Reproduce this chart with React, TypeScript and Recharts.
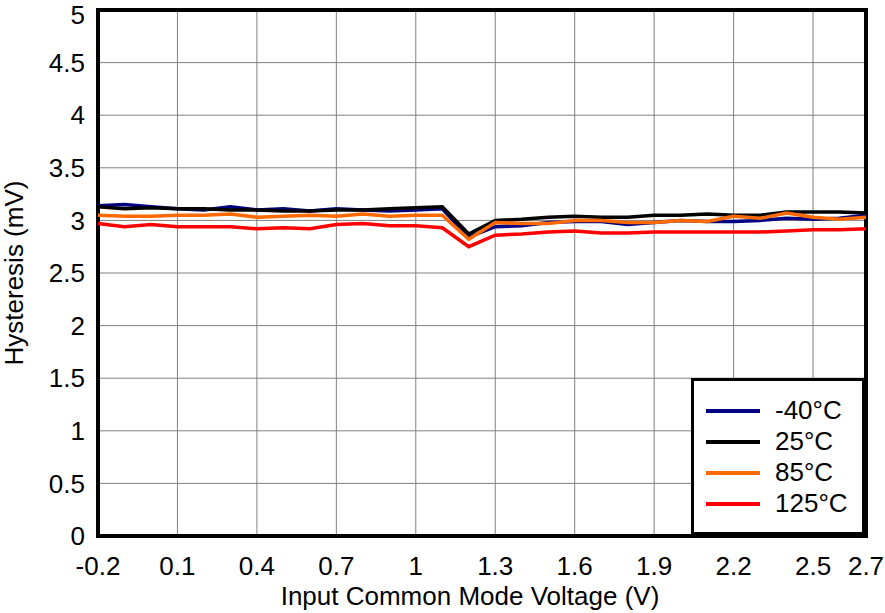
import { CartesianGrid, Label, Legend, Line, LineChart, ReferenceArea, XAxis, YAxis } from 'recharts'

const voltage = [
  -0.2, -0.1, 0, 0.1, 0.2, 0.3, 0.4, 0.5, 0.6, 0.7, 0.8, 0.9, 1.0, 1.1, 1.2,
  1.3, 1.4, 1.5, 1.6, 1.7, 1.8, 1.9, 2.0, 2.1, 2.2, 2.3, 2.4, 2.5, 2.6, 2.7,
];
const hystM40 = [
  3.14, 3.15, 3.13, 3.11, 3.10, 3.13, 3.10, 3.11, 3.09, 3.11, 3.10, 3.09, 3.10, 3.11, 2.84,
  2.94, 2.95, 2.98, 2.99, 2.99, 2.96, 2.98, 3.00, 2.99, 2.99, 3.00, 3.02, 3.01, 3.02, 3.05,
];
const hyst25 = [
  3.13, 3.11, 3.12, 3.11, 3.11, 3.10, 3.10, 3.09, 3.09, 3.10, 3.10, 3.11, 3.12, 3.13, 2.87,
  3.00, 3.01, 3.03, 3.04, 3.03, 3.03, 3.05, 3.05, 3.06, 3.05, 3.05, 3.08, 3.08, 3.08, 3.07,
];
const hyst85 = [
  3.05, 3.04, 3.04, 3.05, 3.05, 3.06, 3.03, 3.04, 3.05, 3.04, 3.06, 3.04, 3.05, 3.05, 2.82,
  2.98, 2.97, 2.97, 3.00, 3.00, 2.98, 2.98, 3.00, 2.99, 3.04, 3.02, 3.07, 3.03, 3.01, 3.03,
];
const hyst125 = [
  2.97, 2.94, 2.96, 2.94, 2.94, 2.94, 2.92, 2.93, 2.92, 2.96, 2.97, 2.95, 2.95, 2.93, 2.75,
  2.86, 2.87, 2.89, 2.90, 2.88, 2.88, 2.89, 2.89, 2.89, 2.89, 2.89, 2.90, 2.91, 2.91, 2.92,
];
const xTicks = [-0.2, 0.1, 0.4, 0.7, 1, 1.3, 1.6, 1.9, 2.2, 2.5, 2.7];
const yTicks = [0, 0.5, 1, 1.5, 2, 2.5, 3, 3.5, 4, 4.5, 5];

const series = [
  { key: 'm40', name: '-40°C', color: '#000080' },
  { key: 't25', name: '25°C', color: '#000000' },
  { key: 't85', name: '85°C', color: '#ff6a00' },
  { key: 't125', name: '125°C', color: '#ff0000' },
];

const data = voltage.map((v, i) => ({
  v,
  m40: hystM40[i],
  t25: hyst25[i],
  t85: hyst85[i],
  t125: hyst125[i],
}));

const font = '"Liberation Sans", Arial, sans-serif';

function LegendBox() {
  return (
    <div
      style={{
        width: 168,
        height: 151,
        border: '3px solid #000',
        background: '#fff',
        boxSizing: 'content-box',
        fontFamily: font,
        fontSize: 26,
        color: '#000',
      }}
    >
      {series.map((s, i) => (
        <div
          key={s.key}
          style={{ position: 'absolute', left: 15, top: 17 + i * 31, height: 31, display: 'flex', alignItems: 'center' }}
        >
          <div style={{ width: 54, height: 4, background: s.color }} />
          <span style={{ marginLeft: 15, lineHeight: '31px' }}>{s.name}</span>
        </div>
      ))}
    </div>
  );
}

export default function App() {
  return (
    <div style={{ position: 'absolute', left: 0, top: 0, width: 885, height: 613, background: '#fff' }}>
      <LineChart
        width={885}
        height={613}
        data={data}
        margin={{ top: 10, right: 19, bottom: 17, left: 0 }}
        style={{ fontFamily: font }}
      >
        <CartesianGrid stroke="#808080" strokeWidth={1} />
        <XAxis
          dataKey="v"
          type="number"
          domain={[-0.2, 2.7]}
          ticks={xTicks}
          height={60}
          tickSize={0}
          tickMargin={21}
          axisLine={false}
          tick={{ fill: '#000', fontSize: 26 }}
          tickFormatter={(v: number) => `${v}`}
        >
          <Label
            value="Input Common Mode Voltage (V)"
            position="insideBottom"
            dx={-12}
            offset={-9}
            style={{ fill: '#000', fontSize: 26 }}
          />
        </XAxis>
        <YAxis
          type="number"
          domain={[0, 5]}
          ticks={yTicks}
          width={98}
          tickSize={0}
          tickMargin={13}
          axisLine={false}
          tick={{ fill: '#000', fontSize: 26 }}
        >
          <Label
            value="Hysteresis (mV)"
            angle={-90}
            position="insideLeft"
            offset={0}
            dx={14}
            style={{ fill: '#000', fontSize: 26, textAnchor: 'middle' }}
          />
        </YAxis>
        {series.map((s) => (
          <Line
            key={s.key}
            dataKey={s.key}
            name={s.name}
            stroke={s.color}
            strokeWidth={3.5}
            dot={false}
            activeDot={false}
            type="linear"
            isAnimationActive={false}
          />
        ))}
        <ReferenceArea
          x1={-0.2}
          x2={2.7}
          y1={0}
          y2={5}
          fill="none"
          stroke="#000"
          strokeWidth={4}
          ifOverflow="visible"
        />
        <Legend
          layout="vertical"
          align="center"
          verticalAlign="middle"
          wrapperStyle={{ left: 691, top: 378, width: 174, height: 157 }}
          content={() => <LegendBox />}
        />
      </LineChart>
    </div>
  );
}
